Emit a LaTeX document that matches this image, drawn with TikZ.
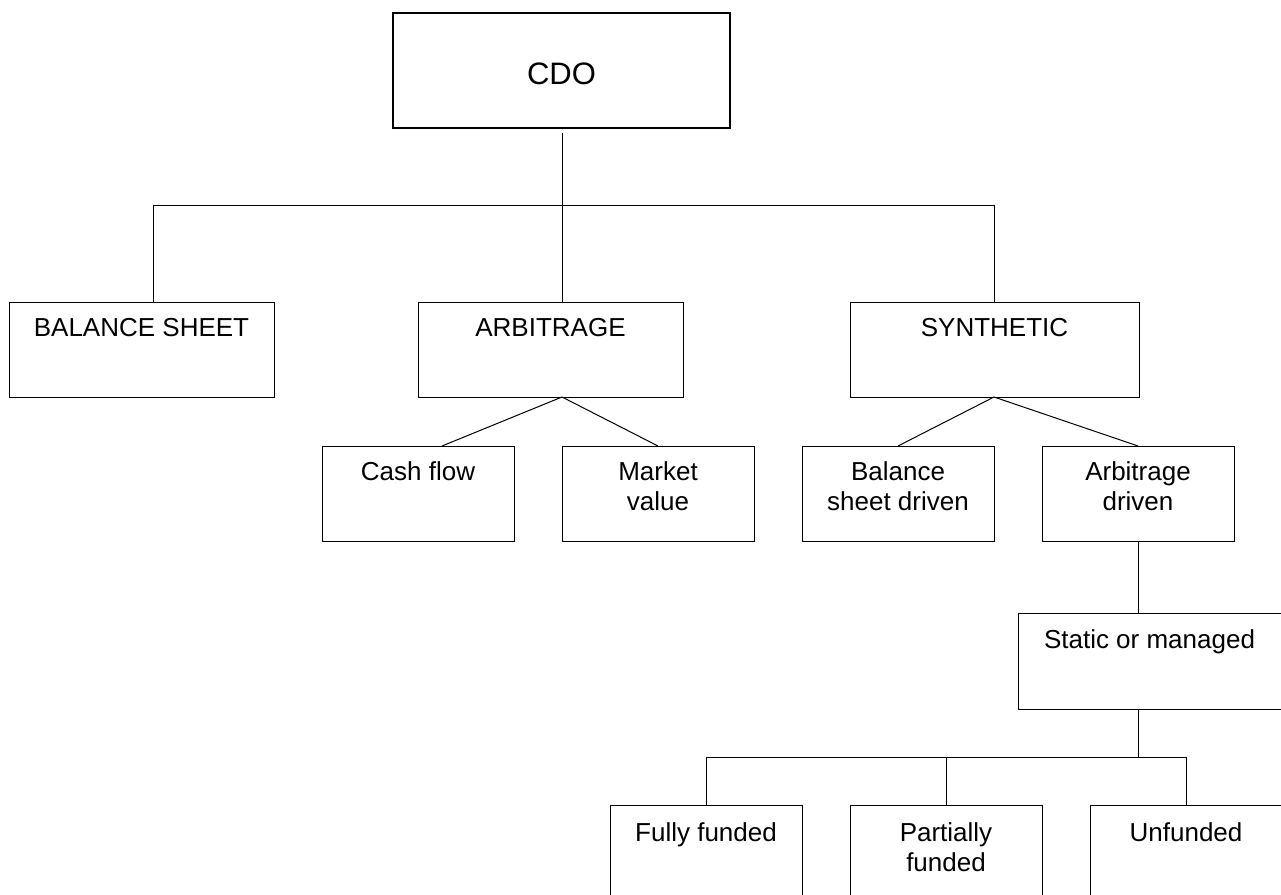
\documentclass[tikz,border=0pt]{standalone}
\usepackage{fontspec}
\setmainfont{Liberation Sans}
% two centred lines, aligned on the first baseline
\newcommand\twolines[2]{\begin{tabular}[t]{@{}c@{}}#1\\#2\end{tabular}}
\begin{document}
\begin{tikzpicture}[x=0.75pt, y=-0.75pt,
  box/.style={draw, line width=0.75pt, rectangle, inner sep=0pt, outer sep=0pt,
    anchor=north west, font=\fontsize{19.5pt}{22.5pt}\selectfont,
    text height=25.5pt, text depth=45.75pt},
  topbox/.style={box, line width=1.5pt, font=\fontsize{23.25pt}{27pt}\selectfont,
    text height=54pt, text depth=32.25pt, minimum width=252.75pt},
  wide/.style={box, minimum width=198.75pt},
  small/.style={box, minimum width=144pt},
  midbox/.style={box, minimum width=197.25pt, text height=26.25pt, text depth=45.75pt},
  lowbox/.style={box, minimum width=144pt, text height=27pt, text depth=48pt},
  link/.style={line width=0.75pt}
]
\path[use as bounding box, clip] (0,0) rectangle (1281,895);

% root
\node[topbox] (cdo) at (393,13) {CDO};

% first level
\node[wide] (bs)  at (9,302)   {BALANCE SHEET};
\node[wide] (arb) at (418,302) {ARBITRAGE};
\node[box, minimum width=216.75pt] (syn) at (850,302) {SYNTHETIC};

% second level
\node[small] (cf)  at (322,446)  {Cash flow};
\node[small] (mv)  at (562,446)  {\twolines{Market}{value}};
\node[small] (bsd) at (802,446)  {\twolines{Balance}{sheet driven}};
\node[small] (ad)  at (1042,446) {\twolines{Arbitrage}{driven}};

% third level
\node[midbox] (sm) at (1018,613) {Static or managed};

% funding types
\node[lowbox] (ff) at (610,805)  {Fully funded};
\node[lowbox] (pf) at (850,805)  {\twolines{Partially}{funded}};
\node[lowbox] (uf) at (1090,805) {Unfunded};

% junctions
\coordinate (j1) at (562,205);
\coordinate (t1) at (153,205);
\coordinate (t3) at (994,205);
\coordinate (j4) at (1138,757);

% root to first level
\draw[link] ([yshift=-3.75pt]cdo.south -| j1) -- (j1);
\draw[link] (t1) -- (t3);
\draw[link] (t1) -- (t1 |- bs.north);
\draw[link] (j1) -- (j1 |- arb.north);
\draw[link] (t3) -- (t3 |- syn.north);

% arbitrage branches
\draw[link] (j1 |- arb.south) -- ([xshift=18pt]cf.north);
\draw[link] (j1 |- arb.south) -- (mv.north);

% synthetic branches
\draw[link] (t3 |- syn.south) -- (bsd.north);
\draw[link] (t3 |- syn.south) -- (ad.north);

% arbitrage driven to static or managed
\draw[link] (ad.south) -- (ad.south |- sm.north);

% static or managed to funding types
\draw[link] (ad.south |- sm.south) -- (j4);
\draw[link] (ff.north |- j4) -- (uf.north |- j4);
\draw[link] (ff.north |- j4) -- (ff.north);
\draw[link] (pf.north |- j4) -- (pf.north);
\draw[link] (uf.north |- j4) -- (uf.north);
\end{tikzpicture}
\end{document}
